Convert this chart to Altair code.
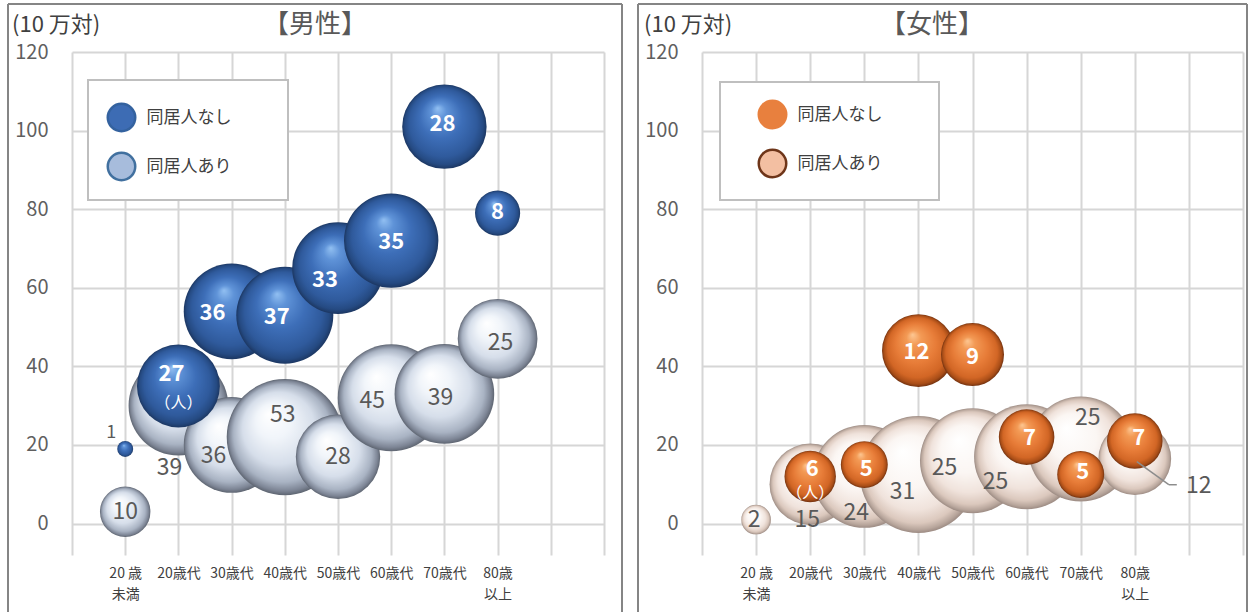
import json
import altair as alt
import pandas as pd

# ---------------- data ----------------
AGE_LABELS = ["20 歳\n未満", "20歳代", "30歳代", "40歳代", "50歳代", "60歳代", "70歳代", "80歳\n以上"]
AGE_POS = [1, 2, 3, 4, 5, 6, 7, 8]
SERIES = ["同居人なし", "同居人あり"]

MEN_ALONE_RATE = [19, 35, 54, 53, 65, 72, 101, 79]
MEN_ALONE_N = [1, 27, 36, 37, 33, 35, 28, 8]
MEN_WITH_RATE = [3, 30, 20, 22, 17, 32, 33, 47]
MEN_WITH_N = [10, 39, 36, 53, 28, 45, 39, 25]

WOMEN_ALONE_RATE = [None, 12, 15, 44, 43, 22, 12.5, 21]
WOMEN_ALONE_N = [None, 6, 5, 12, 9, 7, 5, 7]
WOMEN_WITH_RATE = [1, 10, 12, 12.5, 16, 17, 19, 16.5]
WOMEN_WITH_N = [2, 15, 24, 31, 25, 25, 25, 12]

# label nudges in pixels (dx, dy) -- placement only
MEN_ALONE_NUDGE = [(-14, -16), (-7, -12), (-19, 2), (-8, 2), (-13, 12), (0, 1), (-2, -3), (0, -1)]
MEN_WITH_NUDGE = [(0, 0), (-9, 62), (-18, 11), (-2, -22), (0, 0), (-19, 3), (-4, 4), (3, 4)]
WOMEN_ALONE_NUDGE = [(0, 0), (2, -7), (2, 4), (-2, 1), (0, 2), (3, 1), (2, -2), (4, -3)]
WOMEN_WITH_NUDGE = [(-2, 0), (-3, 36), (-8, 37), (-16, 18), (-28, 7), (-31, 25), (7, -31), (64, 27)]

FONT = "Noto Sans CJK JP"
H = 503
Y_DOM = [-8, 120]


def sphere(stops, fx=0.42, fy=0.28):
    return {
        "gradient": "radial",
        "x1": fx, "y1": fy, "r1": 0,
        "x2": 0.5, "y2": 0.5, "r2": 0.5,
        "stops": [{"offset": o, "color": c} for o, c in stops],
    }


GRAD_BLUE = sphere([(0, "#92c0f2"), (0.18, "#5f93d8"), (0.5, "#3d6eb8"), (0.8, "#2f5a9c"),
                    (0.93, "#254a82"), (1, "#1c3762")])
GRAD_GRAY = sphere([(0, "#ffffff"), (0.3, "#f1f5fa"), (0.62, "#d6deea"), (0.84, "#a9b3c3"),
                    (0.95, "#7c8494"), (1, "#5e6571")], 0.36, 0.3)
GRAD_ORANGE = sphere([(0, "#fdc793"), (0.2, "#f39a55"), (0.55, "#e77c38"), (0.82, "#d26625"),
                      (0.94, "#a84d17"), (1, "#733210")])
GRAD_PEACH = sphere([(0, "#ffffff"), (0.45, "#fbf6f3"), (0.72, "#f0e3dc"), (0.88, "#dbc8bd"),
                     (0.96, "#b7a59b"), (1, "#9c8b83")], 0.36, 0.3)

label_arr = ["''"]
for lbl in AGE_LABELS:
    parts = lbl.split("\n")
    label_arr.append(json.dumps(parts if len(parts) > 1 else parts[0], ensure_ascii=False))
label_arr += ["''", "''"]
X_LABEL_EXPR = "[" + ",".join(label_arr) + "][datum.value]"


def enc_xy(width):
    x = alt.X("x:Q", scale=alt.Scale(domain=[0, 10], nice=False, zero=False),
              axis=alt.Axis(values=list(range(11)), labelExpr=X_LABEL_EXPR, grid=True,
                            gridColor="#d6d6d6", gridWidth=2, domain=False, ticks=False,
                            tickSize=0, labelPadding=11, labelFontSize=14, labelFont=FONT,
                            labelColor="#404040", labelBaseline="top", labelLineHeight=21,
                            labelOverlap=False, labelFlush=False, title=None))
    y = alt.Y("y:Q", scale=alt.Scale(domain=Y_DOM, nice=False, zero=False),
              axis=alt.Axis(values=[0, 20, 40, 60, 80, 100, 120], grid=True, gridColor="#d6d6d6",
                            gridWidth=2, domain=False, ticks=False, tickSize=0, labelPadding=24,
                            labelFontSize=20, labelFont=FONT, labelColor="#5f5f5f", title=None))
    return x, y


def panel(width, title, title_x, unit_x, frame_r, alone_rate, alone_n, with_rate, with_n,
          alone_nudge, with_nudge, grad_alone, grad_with, area_unit, leg_fill, leg_stroke,
          leg_xy, box, gray_alone_idx=(), unit_idx=1, leader_idx=None):
    X, Y = enc_xy(width)
    ppx = width / 10.0
    ppy = H / float(Y_DOM[1] - Y_DOM[0])
    one = pd.DataFrame({"a": [0]})

    def bubbles(rate, n, series):
        rows = [{"x": p, "y": r, "n": v, "series": series}
                for p, r, v in zip(AGE_POS, rate, n) if r is not None]
        return pd.DataFrame(rows)

    def labels(rate, n, nudge, idxs):
        rows = []
        for i in idxs:
            if rate[i] is None:
                continue
            dx, dy = nudge[i]
            rows.append({"x": AGE_POS[i] + dx / ppx, "y": rate[i] - dy / ppy, "t": str(n[i])})
        return pd.DataFrame(rows)

    size = alt.Size("n:Q", scale=alt.Scale(domain=[0, 60], range=[0, 60 * area_unit]), legend=None)

    layers = []
    # panel frame
    layers.append(alt.Chart(one).mark_rule(color="#858585", strokeWidth=2).encode(
        x=alt.value(-64), y=alt.value(-48), y2=alt.value(560)))
    layers.append(alt.Chart(one).mark_rule(color="#858585", strokeWidth=2).encode(
        x=alt.value(-64), x2=alt.value(frame_r), y=alt.value(-48)))
    layers.append(alt.Chart(one).mark_rule(color="#858585", strokeWidth=2).encode(
        x=alt.value(frame_r), y=alt.value(-48), y2=alt.value(560)))
    # legend box
    layers.append(alt.Chart(one).mark_rect(fill="white", stroke="#bfbfbf", strokeWidth=2).encode(
        x=alt.value(box[0]), x2=alt.value(box[1]), y=alt.value(box[2]), y2=alt.value(box[3])))
    # invisible legend layer
    leg = alt.Legend(title=None, orient="none", legendX=leg_xy[0], legendY=leg_xy[1],
                     symbolType="circle", symbolSize=755, symbolStrokeWidth=2.5, symbolOpacity=1,
                     labelFontSize=17, labelFont=FONT, labelColor="#404040", labelOffset=10,
                     rowPadding=11, padding=0)
    leg_df = pd.DataFrame({"x": [1, 1], "y": [0, 0], "series": SERIES})
    layers.append(alt.Chart(leg_df).mark_circle(opacity=0).encode(
        x=X, y=Y,
        fill=alt.Fill("series:N", scale=alt.Scale(domain=SERIES, range=leg_fill), legend=leg),
        stroke=alt.Stroke("series:N", scale=alt.Scale(domain=SERIES, range=leg_stroke), legend=leg)))
    # bubbles
    layers.append(alt.Chart(bubbles(with_rate, with_n, SERIES[1])).mark_circle(
        fill=grad_with, opacity=1).encode(x=X, y=Y, size=size))
    layers.append(alt.Chart(bubbles(alone_rate, alone_n, SERIES[0])).mark_circle(
        fill=grad_alone, opacity=1).encode(x=X, y=Y, size=size))
    # leader line
    if leader_idx is not None:
        i = leader_idx
        cx, cy = AGE_POS[i], with_rate[i]
        p0 = (cx + 2 / ppx, cy - 3 / ppy)
        p1 = (cx + 34 / ppx, cy - 26 / ppy)
        p2 = (cx + 42 / ppx, cy - 26 / ppy)
        ldf = pd.DataFrame({"x": [p0[0], p1[0]], "y": [p0[1], p1[1]],
                            "x2": [p1[0], p2[0]], "y2": [p1[1], p2[1]]})
        layers.append(alt.Chart(ldf).mark_rule(color="#8c8c8c", strokeWidth=1.5).encode(
            x=X, y=Y, x2="x2:Q", y2="y2:Q"))
    # labels
    all_idx = list(range(8))
    layers.append(alt.Chart(labels(with_rate, with_n, with_nudge, all_idx)).mark_text(
        font=FONT, fontSize=23, color="#595959").encode(x=X, y=Y, text="t:N"))
    white_idx = [i for i in all_idx if i not in gray_alone_idx]
    layers.append(alt.Chart(labels(alone_rate, alone_n, alone_nudge, white_idx)).mark_text(
        font=FONT, fontSize=22, fontWeight="bold", color="white").encode(x=X, y=Y, text="t:N"))
    if gray_alone_idx:
        layers.append(alt.Chart(labels(alone_rate, alone_n, alone_nudge, list(gray_alone_idx))).mark_text(
            font=FONT, fontSize=18, color="#595959").encode(x=X, y=Y, text="t:N"))
    # unit "(人)"
    u = unit_idx
    udf = pd.DataFrame({"x": [AGE_POS[u]], "y": [alone_rate[u] - 17 / ppy], "t": ["（人）"]})
    layers.append(alt.Chart(udf).mark_text(font=FONT, fontSize=16, color="white").encode(
        x=X, y=Y, text="t:N"))
    # titles
    layers.append(alt.Chart(pd.DataFrame({"t": [title]})).mark_text(
        font=FONT, fontSize=26, color="#595959", align="center", baseline="middle").encode(
        x=alt.value(title_x), y=alt.value(-27), text="t:N"))
    layers.append(alt.Chart(pd.DataFrame({"t": ["(10 万対)"]})).mark_text(
        font=FONT, fontSize=22, color="#404040", align="left", baseline="middle").encode(
        x=alt.value(unit_x), y=alt.value(-27), text="t:N"))

    return alt.layer(*layers).properties(width=width, height=H)


men = panel(532, "【男性】", 243, -60, 550, MEN_ALONE_RATE, MEN_ALONE_N, MEN_WITH_RATE, MEN_WITH_N,
            MEN_ALONE_NUDGE, MEN_WITH_NUDGE, GRAD_BLUE, GRAD_GRAY, 254.5,
            ["#3d6cb4", "#a7bcdc"], ["#34629f", "#41709f"], (34.5, 50.5), (16, 216, 28, 148),
            gray_alone_idx=(0,), unit_idx=1)

women = panel(541, "【女性】", 230, -58, 545, WOMEN_ALONE_RATE, WOMEN_ALONE_N, WOMEN_WITH_RATE,
              WOMEN_WITH_N, WOMEN_ALONE_NUDGE, WOMEN_WITH_NUDGE, GRAD_ORANGE, GRAD_PEACH, 441.2,
              ["#e8803e", "#f3bfa2"], ["#e8803e", "#6e3519"], (55.5, 47.5), (18, 237, 30, 148),
              unit_idx=1, leader_idx=7)

chart = alt.hconcat(men, women, spacing=14).resolve_scale(
    x="independent", y="independent", size="independent", fill="independent", stroke="independent"
).resolve_legend(fill="independent", stroke="independent").properties(
    padding={"left": 7, "top": 3, "right": 0, "bottom": 0}
).configure_view(stroke=None)

chart.save("out.html", embed_options={"renderer": "svg", "actions": False})
